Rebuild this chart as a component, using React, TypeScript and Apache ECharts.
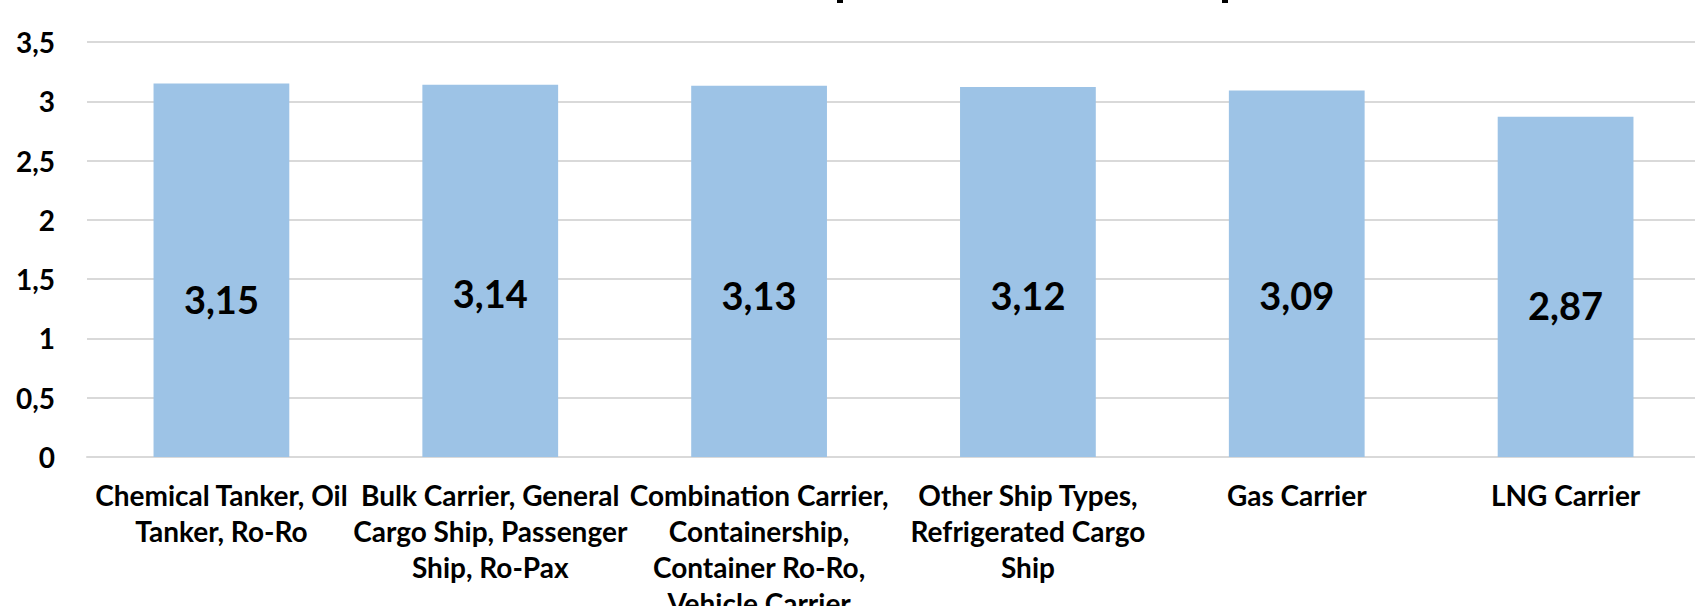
import React, { useEffect, useRef } from "react";
import * as echarts from "echarts";

const categories = [
  "Chemical Tanker, Oil Tanker, Ro-Ro",
  "Bulk Carrier, General Cargo Ship, Passenger Ship, Ro-Pax",
  "Combination Carrier, Containership, Container Ro-Ro, Vehicle Carrier",
  "Other Ship Types, Refrigerated Cargo Ship",
  "Gas Carrier",
  "LNG Carrier",
];
const categoryLabels = [
  "Chemical Tanker, Oil\nTanker, Ro-Ro",
  "Bulk Carrier, General\nCargo Ship, Passenger\nShip, Ro-Pax",
  "Combination Carrier,\nContainership,\nContainer Ro-Ro,\nVehicle Carrier",
  "Other Ship Types,\nRefrigerated Cargo\nShip",
  "Gas Carrier",
  "LNG Carrier",
];
const values = [3.15, 3.14, 3.13, 3.12, 3.09, 2.87];
const yTicks = { min: 0, max: 3.5, interval: 0.5 };

// label vertical nudges (style only)
const LABEL_DY = [29, 22, 24, 23, 21, 18];

const FONT = "Lato, 'Open Sans', sans-serif";

export default function App() {
  const ref = useRef<HTMLDivElement>(null);
  useEffect(() => {
    if (!ref.current) return;
    document.body.style.margin = "0";
    document.body.style.overflow = "hidden";
    const chart = echarts.init(ref.current, undefined, { renderer: "svg", width: 1695, height: 606 });
    const fmt = (v: number) => String(v).replace(".", ",");
    chart.setOption({
      animation: false,
      backgroundColor: "#ffffff",
      textStyle: { fontFamily: FONT },
      grid: {
        left: 87,
        top: 42,
        bottom: 149,
        right: -5,
        containLabel: false,
        outerBoundsMode: "none",
      },
      xAxis: {
        type: "category",
        data: categories,
        axisLine: { show: true, lineStyle: { color: "#d9d9d9", width: 2 } },
        axisTick: { show: false },
        axisLabel: {
          interval: 0,
          margin: 20,
          formatter: (_v: string, i: number) => categoryLabels[i],
          color: "#000",
          fontFamily: FONT,
          fontWeight: "bold",
          fontSize: 28,
          lineHeight: 36,
        },
      },
      yAxis: {
        type: "value",
        min: yTicks.min,
        max: yTicks.max,
        interval: yTicks.interval,
        axisLine: { show: false },
        axisTick: { show: false },
        splitLine: { lineStyle: { color: "#d9d9d9", width: 2 } },
        axisLabel: {
          margin: 32,
          formatter: (v: number) => fmt(v),
          color: "#000",
          fontFamily: FONT,
          fontWeight: "bold",
          fontSize: 28,
        },
      },
      series: [
        {
          type: "bar",
          data: values.map((v, i) => ({
            value: v,
            label: { offset: [0, LABEL_DY[i]] },
          })),
          barCategoryGap: "49.5%",
          itemStyle: { color: "#9dc3e6" },
          label: {
            show: true,
            position: "inside",
            formatter: (p: any) => fmt(p.value),
            color: "#000",
            fontFamily: FONT,
            fontWeight: "bold",
            fontSize: 38,
          },
        },
      ],
      graphic: [
        { type: "rect", shape: { x: 837, y: 0, width: 6, height: 3 }, style: { fill: "#000" } },
        { type: "rect", shape: { x: 1222, y: 0, width: 6, height: 3 }, style: { fill: "#000" } },
      ],
    });
    return () => chart.dispose();
  }, []);
  return (
    <div
      ref={ref}
      style={{ position: "absolute", left: 0, top: 0, width: 1695, height: 606, background: "#fff" }}
    />
  );
}
